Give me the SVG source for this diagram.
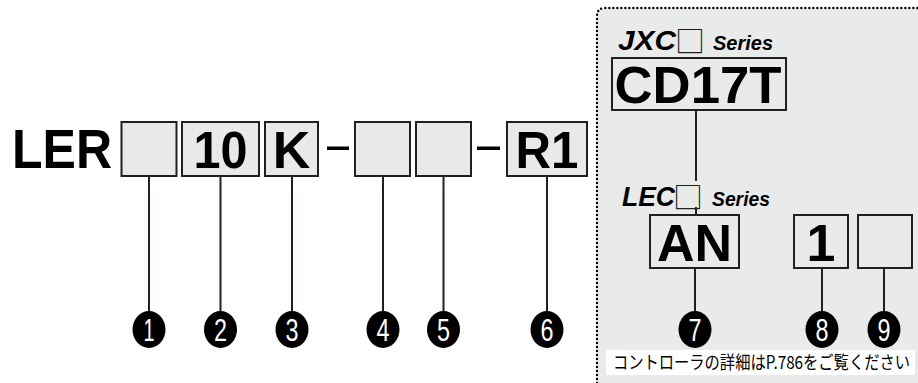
<svg xmlns="http://www.w3.org/2000/svg" width="918" height="383" viewBox="0 0 918 383">
<style>
.box{fill:#e8e9e9;stroke:#231f20;stroke-width:2}
.rbox{fill:none;stroke:#231f20;stroke-width:2}
.big{font-family:"Liberation Sans",Arial,sans-serif;font-weight:bold;font-size:52px;fill:#000;text-anchor:middle}
.ln{stroke:#231f20;stroke-width:2;fill:none}
.num{font-family:"Liberation Sans",Arial,sans-serif;font-size:31px;fill:#fff;text-anchor:middle}
.ser{font-family:"Liberation Sans",Arial,sans-serif;font-weight:bold;font-style:italic;fill:#000}
.sq{font-family:"Noto Sans CJK JP","DejaVu Sans",sans-serif;font-weight:normal;font-style:normal;fill:#231f20}
</style>
<rect width="918" height="383" fill="#fff"/>
<g id="panel">
<path d="M597 383 V16 Q597 8 605 8 H918 V383 Z" fill="#e9eaea"/>
<path d="M597 383 V16 Q597 8 605 8 H918" fill="none" stroke="#000" stroke-width="2.4" stroke-linecap="round" stroke-dasharray="0 4"/>
</g>
<g id="connectors">
<line class="ln" x1="149" y1="176" x2="149" y2="312"/>
<line class="ln" x1="220.5" y1="176" x2="220.5" y2="312"/>
<line class="ln" x1="292" y1="176" x2="292" y2="312"/>
<line class="ln" x1="383" y1="176" x2="383" y2="312"/>
<line class="ln" x1="443.5" y1="176" x2="443.5" y2="312"/>
<line class="ln" x1="547" y1="176" x2="547" y2="312"/>
<line class="ln" x1="696" y1="110" x2="696" y2="181"/>
<line class="ln" x1="696" y1="207" x2="696" y2="215"/>
<line class="ln" x1="695" y1="268" x2="695" y2="312"/>
<line class="ln" x1="822" y1="268" x2="822" y2="312"/>
<line class="ln" x1="884" y1="268" x2="884" y2="312"/>
</g>
<g id="title">
<text x="12" y="168" font-family="Liberation Sans,Arial,sans-serif" font-weight="bold" font-size="55" textLength="100" lengthAdjust="spacingAndGlyphs">LER</text>
<rect x="327" y="146.5" width="22" height="3.5" fill="#000"/>
<rect x="477" y="146.5" width="23" height="3.5" fill="#000"/>
</g>
<g id="b1"><rect class="box" x="121.5" y="122" width="55" height="54"/></g>
<g id="b2"><rect class="box" x="182" y="122" width="77" height="54"/><text class="big" x="220.5" y="168" textLength="54" lengthAdjust="spacingAndGlyphs">10</text></g>
<g id="b3"><rect class="box" x="265" y="122" width="53" height="54"/><text class="big" x="291.5" y="168">K</text></g>
<g id="b4"><rect class="box" x="355" y="122" width="55" height="54"/></g>
<g id="b5"><rect class="box" x="416" y="122" width="55" height="54"/></g>
<g id="b6"><rect class="box" x="507" y="122" width="80" height="54"/><text class="big" x="547" y="168" textLength="63" lengthAdjust="spacingAndGlyphs">R1</text></g>
<g id="jxc">
<text class="ser" y="50"><tspan x="618" font-size="28" textLength="58" lengthAdjust="spacingAndGlyphs">JXC</tspan><tspan class="sq" x="675" dy="2" font-size="30">□</tspan><tspan x="713" dy="-2" font-size="21" textLength="60" lengthAdjust="spacingAndGlyphs">Series</tspan></text>
<rect class="rbox" x="612" y="58" width="174" height="52"/>
<text class="big" x="698" y="103" textLength="167" lengthAdjust="spacingAndGlyphs">CD17T</text>
</g>
<g id="lec">
<text class="ser" y="206"><tspan x="622" font-size="28" textLength="53" lengthAdjust="spacingAndGlyphs">LEC</tspan><tspan class="sq" x="673" dy="2" font-size="30">□</tspan><tspan x="712" dy="-2" font-size="21" textLength="58" lengthAdjust="spacingAndGlyphs">Series</tspan></text>
<rect class="rbox" x="650" y="215" width="89" height="53"/>
<text class="big" x="694.5" y="261" textLength="75" lengthAdjust="spacingAndGlyphs">AN</text>
</g>
<g id="b8"><rect class="rbox" x="794" y="215" width="54" height="53"/><text class="big" x="821" y="261">1</text></g>
<g id="b9"><rect class="rbox" x="858" y="215" width="54" height="53"/></g>
<g id="markers">
<g id="m1"><ellipse cx="149" cy="329.5" rx="16.5" ry="18.5"/><text class="num" x="149" y="341" textLength="11" lengthAdjust="spacingAndGlyphs">1</text></g>
<g id="m2"><ellipse cx="220.5" cy="329.5" rx="16.5" ry="18.5"/><text class="num" x="220.5" y="341" textLength="13" lengthAdjust="spacingAndGlyphs">2</text></g>
<g id="m3"><ellipse cx="292" cy="329.5" rx="16.5" ry="18.5"/><text class="num" x="292" y="341" textLength="13" lengthAdjust="spacingAndGlyphs">3</text></g>
<g id="m4"><ellipse cx="383" cy="329.5" rx="16.5" ry="18.5"/><text class="num" x="383" y="341" textLength="13" lengthAdjust="spacingAndGlyphs">4</text></g>
<g id="m5"><ellipse cx="443.5" cy="329.5" rx="16.5" ry="18.5"/><text class="num" x="443.5" y="341" textLength="13" lengthAdjust="spacingAndGlyphs">5</text></g>
<g id="m6"><ellipse cx="547" cy="329.5" rx="16.5" ry="18.5"/><text class="num" x="547" y="341" textLength="13" lengthAdjust="spacingAndGlyphs">6</text></g>
<g id="m7"><ellipse cx="695" cy="329.5" rx="16.5" ry="18.5"/><text class="num" x="695" y="341" textLength="13" lengthAdjust="spacingAndGlyphs">7</text></g>
<g id="m8"><ellipse cx="822" cy="329.5" rx="16.5" ry="18.5"/><text class="num" x="822" y="341" textLength="13" lengthAdjust="spacingAndGlyphs">8</text></g>
<g id="m9"><ellipse cx="884" cy="329.5" rx="16.5" ry="18.5"/><text class="num" x="884" y="341" textLength="13" lengthAdjust="spacingAndGlyphs">9</text></g>
</g>
<g id="note">
<rect x="606" y="350" width="309" height="25" fill="#fff"/>
<text transform="translate(613,369) scale(0.846,1)" x="0" y="0" font-family="Noto Sans CJK JP,sans-serif" font-size="18" textLength="351" lengthAdjust="spacingAndGlyphs">コントローラの詳細はP.786をご覧ください</text>
</g>
</svg>
